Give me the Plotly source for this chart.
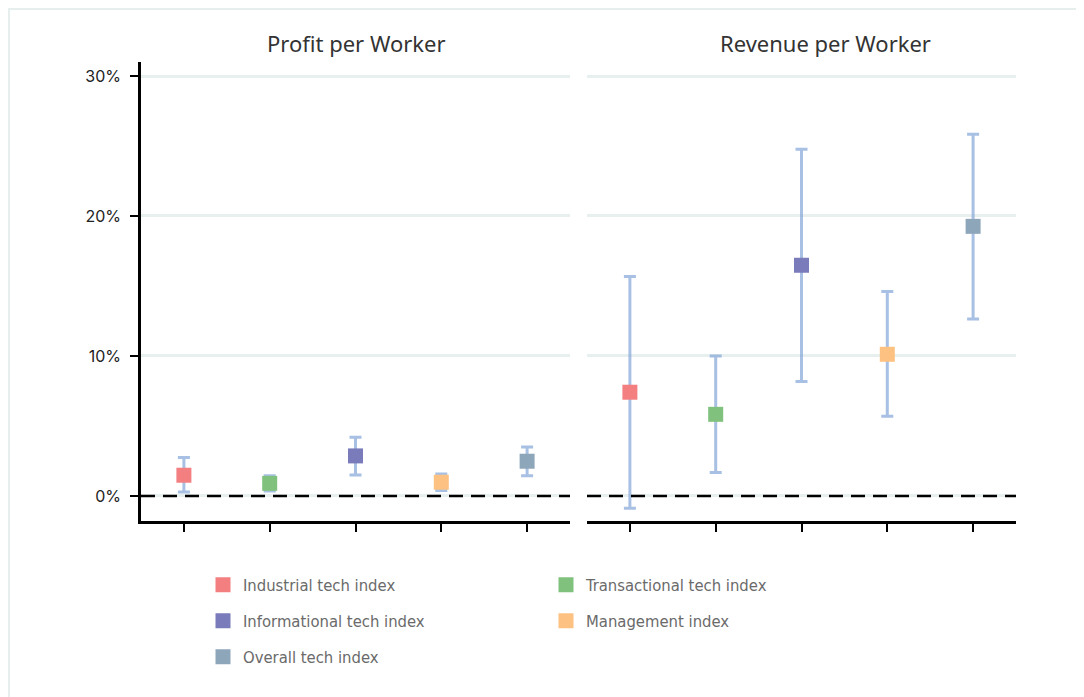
import plotly.graph_objects as go

categories = ["Industrial tech index", "Transactional tech index", "Informational tech index",
              "Management index", "Overall tech index"]
colors = ["#f47f80", "#80c17e", "#7a7bbb", "#fdc282", "#8ea6ba"]

profit = [1.48, 0.90, 2.86, 0.98, 2.48]
profit_hi = [2.74, 1.45, 4.19, 1.57, 3.50]
profit_lo = [0.29, 0.36, 1.50, 0.38, 1.45]

revenue = [7.41, 5.83, 16.48, 10.12, 19.26]
revenue_hi = [15.67, 10.00, 24.76, 14.60, 25.83]
revenue_lo = [-0.88, 1.67, 8.17, 5.69, 12.64]

panel_titles = ["Profit per Worker", "Revenue per Worker"]
y_ticks = [0, 10, 20, 30]
y_tick_text = ["0%", "10%", "20%", "30%"]

W, H = 1084, 697
OFF = 8  # page body offset
ML, MR, MT, MB = 141 - OFF, W - (1016 - OFF), 62 - OFF, H - (521 - OFF)
PW = W - ML - MR
PH = H - MT - MB

err_color = "rgba(125,162,214,0.68)"
legend_rows = [[0, 1], [2, 3], [4]]
legend_row_y = [585 - OFF, 621 - OFF, 657 - OFF]

fig = go.Figure()

for i, cat in enumerate(categories):
    leg = "legend" if i in legend_rows[0] else ("legend2" if i in legend_rows[1] else "legend3")
    for p, (vals, hi, lo) in enumerate([(profit, profit_hi, profit_lo),
                                         (revenue, revenue_hi, revenue_lo)]):
        fig.add_trace(go.Scatter(
            x=[i], y=[vals[i]],
            mode="markers",
            name=cat,
            legendgroup=cat,
            legend=leg,
            showlegend=(p == 0),
            marker=dict(symbol="square", size=15, color=colors[i], line=dict(width=0)),
            error_y=dict(type="data", symmetric=False,
                         array=[hi[i] - vals[i]], arrayminus=[vals[i] - lo[i]],
                         color=err_color, thickness=3, width=6),
            xaxis="x" if p == 0 else "x2",
            yaxis="y" if p == 0 else "y2",
            hoverinfo="skip",
        ))

d1 = 429 / PW
d2 = 446 / PW
yr = [-1.79, 31.0]

common_x = dict(range=[-0.5, 4.5], showgrid=False, zeroline=False, showline=True,
                linecolor="black", linewidth=2.5, ticks="outside", ticklen=8,
                tickwidth=2, tickcolor="black", tickvals=list(range(5)),
                showticklabels=False, fixedrange=True)
fig.update_layout(
    width=W, height=H,
    margin=dict(l=ML, r=MR, t=MT, b=MB),
    paper_bgcolor="white", plot_bgcolor="white",
    xaxis=dict(domain=[0, d1], anchor="y", **common_x),
    xaxis2=dict(domain=[d2, 1], anchor="y2", **common_x),
    yaxis=dict(range=yr, tickmode="array", tickvals=y_ticks, ticktext=y_tick_text,
               showgrid=True,
               gridcolor="#e8efef", gridwidth=3, zeroline=False, showline=True,
               linecolor="black", linewidth=2.5, ticks="outside", ticklen=8,
               tickwidth=2, tickcolor="black", ticklabelstandoff=6,
               tickfont=dict(family="Inter, Noto Sans, sans-serif", size=16, color="#222"),
               anchor="x"),
    yaxis2=dict(range=yr, tickvals=y_ticks, showgrid=True, gridcolor="#e8efef",
                gridwidth=3, zeroline=False, showline=False, showticklabels=False,
                ticks="", anchor="x2"),
    showlegend=True,
)

leg_font = dict(family="DejaVu Sans Condensed, sans-serif", size=16.5, color="#6a6a6a")
for k, ly in zip(["legend", "legend2", "legend3"], legend_row_y):
    fig.update_layout({k: dict(orientation="h", xref="container", yref="container",
                               x=(222 - 27) / W, y=1 - ly / H, xanchor="left", yanchor="middle",
                               entrywidth=298, entrywidthmode="pixels",
                               font=leg_font, bgcolor="rgba(0,0,0,0)", itemclick=False,
                               itemdoubleclick=False)})

# zero dashed lines
for xr in ["x domain", "x2 domain"]:
    fig.add_shape(type="line", xref=xr, yref="y" if xr.startswith("x ") else "y2",
                  x0=0, x1=1, y0=0, y1=0,
                  line=dict(color="black", width=2.5, dash="14px,8px"))

# panel titles
title_x = [356 - OFF, 825 - OFF]
for t, tx in zip(panel_titles, title_x):
    fig.add_annotation(text=t, xref="paper", yref="paper",
                       x=(tx - ML) / PW, y=(H - MB - (43 - OFF)) / PH,
                       xanchor="center", yanchor="middle", showarrow=False,
                       font=dict(family="Noto Sans, sans-serif", size=22, color="#333"))

# outer frame at figure edge
fig.add_shape(type="rect", xref="paper", yref="paper",
              x0=(0.5 - ML) / PW, x1=(W + 20 - ML) / PW,
              y0=(H - MB - (H + 20)) / PH, y1=(H - MB - 0.5) / PH,
              line=dict(color="#e6efed", width=3), fillcolor="rgba(0,0,0,0)", layer="below")

fig.write_html("out.html")
